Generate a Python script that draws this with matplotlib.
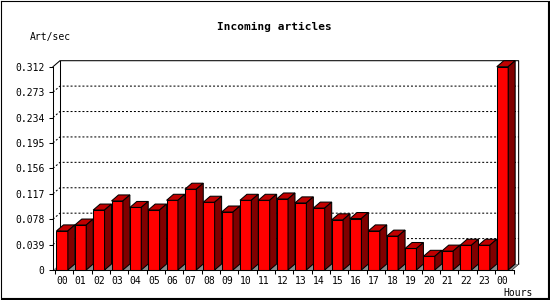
import numpy as np
import matplotlib.pyplot as plt
from matplotlib.patches import Polygon

# incoming articles per second, by hour
hours = ['00', '01', '02', '03', '04', '05', '06', '07', '08', '09', '10', '11',
         '12', '13', '14', '15', '16', '17', '18', '19', '20', '21', '22', '23', '00']
rate = [0.060, 0.069, 0.092, 0.106, 0.096, 0.092, 0.107, 0.124, 0.104, 0.089,
        0.107, 0.107, 0.109, 0.103, 0.095, 0.077, 0.079, 0.060, 0.052, 0.033,
        0.021, 0.029, 0.038, 0.038, 0.312]
yticks = [0, 0.039, 0.078, 0.117, 0.156, 0.195, 0.234, 0.273, 0.312]
ylabels = ['0', '0.039', '0.078', '0.117', '0.156', '0.195', '0.234', '0.273', '0.312']

W, H = 550, 300
mono = 'DejaVu Sans Mono'
front_c, top_c, side_c, floor_c = '#ff0000', '#c00000', '#800000', '#8c8c8c'
lw = 0.75

fig = plt.figure(figsize=(W / 100, H / 100), dpi=100)

# overlay in pixel coords for frame and free text
bg = fig.add_axes([0, 0, 1, 1], zorder=0)
bg.set_xlim(0, W)
bg.set_ylim(H, 0)
bg.axis('off')
bg.plot([0.5, 547.5, 547.5, 0.5, 0.5], [0.5, 0.5, 297.5, 297.5, 0.5], color='black', lw=0.8)
bg.plot([548.5, 548.5], [1, 299], color='black', lw=0.8)
bg.plot([1, 548.5], [298.5, 298.5], color='black', lw=0.8)
bg.text(274, 27, 'Incoming articles', ha='center', va='center', family=mono,
        fontsize=8, fontweight='bold')
bg.text(30, 37, 'Art/sec', ha='left', va='center', family=mono, fontsize=7)
bg.text(533, 293, 'Hours', ha='right', va='center', family=mono, fontsize=7)

x0, x1, y0, y1 = 53, 513.5, 270, 66.7
ax = fig.add_axes([x0 / W, (H - y0) / H, (x1 - x0) / W, (y0 - y1) / H], zorder=1)
ax.patch.set_alpha(0)
n = len(rate)
ax.set_xlim(-0.5, n - 0.5)
ax.set_ylim(0, yticks[-1])

# 3d depth in data units (7px right, 6px up)
dx = 7 * n / (x1 - x0)
dy = 6 * yticks[-1] / (y0 - y1)
xl, xr = -0.5, n - 0.5
ytop = yticks[-1]

# back panel
ax.plot([xl, xl + dx, xr + dx, xr + dx], [ytop, ytop + dy, ytop + dy, dy],
        color='black', lw=lw, clip_on=False, zorder=1)
ax.plot([xl + dx, xl + dx], [dy, ytop + dy], color='black', lw=lw, clip_on=False, zorder=1)
ax.plot([xr, xr + dx], [0, dy], color='black', lw=lw, clip_on=False, zorder=1)
for t in yticks[1:-1]:
    ax.plot([xl, xl + dx, xr + dx], [t, t + dy, t + dy], color='black', lw=lw,
            ls=(0, (1.9, 1.9)), clip_on=False, zorder=1)

# floor
ax.add_patch(Polygon([(xl, 0), (xl + dx, dy), (xr + dx, dy), (xr, 0)],
                     closed=True, facecolor=floor_c, edgecolor='none',
                     clip_on=False, zorder=2))

# bars
w = 0.62
xs = np.arange(n)
ax.bar(xs, rate, width=w, color=front_c, edgecolor='black', linewidth=lw,
       zorder=3, clip_on=False)
for x, v in zip(xs, rate):
    a, b = x - w / 2, x + w / 2
    ax.add_patch(Polygon([(a, v), (a + dx, v + dy), (b + dx, v + dy), (b, v)],
                         closed=True, facecolor=top_c, edgecolor='black',
                         linewidth=lw, clip_on=False, zorder=3))
    ax.add_patch(Polygon([(b, 0), (b + dx, dy), (b + dx, v + dy), (b, v)],
                         closed=True, facecolor=side_c, edgecolor='black',
                         linewidth=lw, clip_on=False, zorder=3))

for s in ['top', 'right']:
    ax.spines[s].set_visible(False)
for s in ['left', 'bottom']:
    ax.spines[s].set_linewidth(lw)
    ax.spines[s].set_zorder(4)

ax.set_yticks(yticks)
ax.set_yticklabels(ylabels, family=mono, fontsize=7)
ax.tick_params(axis='y', direction='out', length=3, width=lw, pad=3)

ax.set_xticks(xs)
ax.set_xticklabels(hours, family=mono, fontsize=7)
ax.set_xticks(np.arange(n + 1) - 0.4, minor=True)
ax.tick_params(axis='x', which='major', length=0, pad=4)
ax.tick_params(axis='x', which='minor', direction='out', length=3, width=lw)

fig.savefig('out.png', dpi=100)
